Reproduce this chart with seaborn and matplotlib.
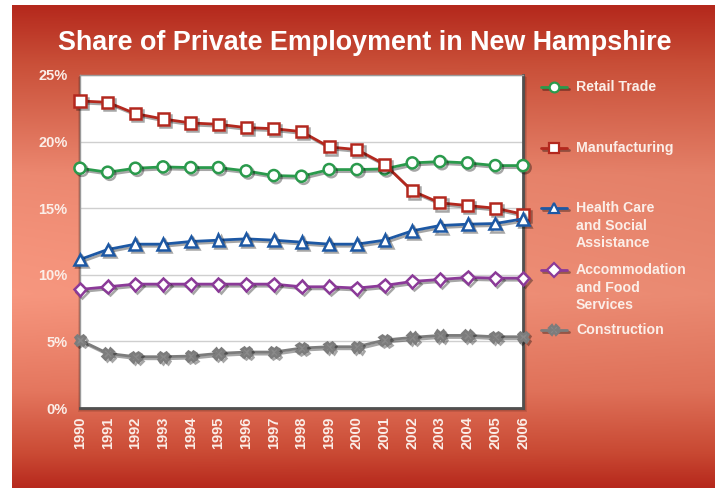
import numpy as np
import pandas as pd
import matplotlib
matplotlib.use("Agg")
import matplotlib.pyplot as plt
import matplotlib.patheffects as pe
from matplotlib.lines import Line2D
from matplotlib.patches import Rectangle
import seaborn as sns

# ---- data: share of private employment (%) ----
years = list(range(1990, 2007))
retail = [18.0, 17.7, 18.0, 18.1, 18.05, 18.05, 17.8, 17.45, 17.4, 17.9, 17.9, 17.95, 18.4, 18.5, 18.4, 18.2, 18.2]
manufacturing = [23.05, 22.95, 22.1, 21.7, 21.4, 21.3, 21.05, 20.97, 20.75, 19.6, 19.4, 18.3, 16.3, 15.4, 15.2, 15.0, 14.55]
health = [11.15, 11.9, 12.3, 12.3, 12.5, 12.6, 12.7, 12.6, 12.45, 12.3, 12.3, 12.6, 13.3, 13.7, 13.8, 13.85, 14.2]
accommodation = [8.9, 9.1, 9.3, 9.3, 9.3, 9.3, 9.3, 9.3, 9.1, 9.1, 9.0, 9.2, 9.5, 9.65, 9.8, 9.75, 9.75]
construction = [5.1, 4.1, 3.85, 3.85, 3.9, 4.1, 4.2, 4.2, 4.5, 4.6, 4.6, 5.1, 5.3, 5.45, 5.45, 5.35, 5.35]

series_names = ["Retail Trade", "Manufacturing", "Health Care\nand Social\nAssistance",
                "Accommodation\nand Food\nServices", "Construction"]
series_values = [retail, manufacturing, health, accommodation, construction]
y_ticks = [0, 5, 10, 15, 20, 25]
y_tick_labels = ["0%", "5%", "10%", "15%", "20%", "25%"]
title = "Share of Private Employment in New Hampshire"

colors = ["#2a9a4c", "#b3281e", "#1d58a4", "#8b3a98", "#7c7c7c"]
markers = ["o", "s", "^", "D", "X"]
faces = ["white", "white", "white", "white", "#8a8a8a"]
msizes = [8, 8, 8.5, 6.5, 7.5]

sns.set_theme(style="white")
plt.rcParams["font.family"] = ["Liberation Sans", "DejaVu Sans"]

W, H = 715, 488
fig = plt.figure(figsize=(W / 100, H / 100), dpi=100)
fig.patch.set_facecolor("white")

# ---- gradient backdrop panel ----
bg = fig.add_axes([12 / W, 0, (W - 12) / W, (H - 5) / H], zorder=0)
stops_y = [0.0, 0.12, 0.35, 0.6, 0.8, 0.93, 1.0]
stops_c = np.array([
    [180, 40, 28],
    [200, 78, 55],
    [228, 128, 104],
    [234, 138, 114],
    [222, 112, 88],
    [200, 72, 50],
    [182, 40, 28],
]) / 255.0
ny, nx = 300, 200
t = np.linspace(0, 1, ny)
col = np.stack([np.interp(t, stops_y, stops_c[:, k]) for k in range(3)], axis=-1)
img = np.repeat(col[:, None, :], nx, axis=1)
# slightly lighter toward the left
xf = np.linspace(1.0, 0.0, nx)
mid = np.exp(-((t - 0.55) / 0.3) ** 2)[:, None]
img = img + (0.05 * xf[None, :] * mid)[..., None]
img = np.clip(img, 0, 1)
bg.imshow(img, aspect="auto", extent=[0, 1, 0, 1], origin="upper")
bg.set_axis_off()

# ---- plot area ----
L, R, B, T = 80 / W, 523 / W, 1 - 408 / H, 1 - 75 / H
# soft shadow behind the white box
for i, a in enumerate([0.10, 0.10, 0.12, 0.15]):
    off = (4 - i) * 1.0
    fig.add_artist(Rectangle((L - off / W * 0.5, B - off / H), R - L + off / W * 1.5, T - B + off / H * 0.6,
                             transform=fig.transFigure, facecolor="black", alpha=a,
                             edgecolor="none", zorder=1))
ax = fig.add_axes([L, B, R - L, T - B], zorder=2)
ax.set_facecolor("white")

shadow = [pe.SimpleLineShadow(offset=(1.5, -1.5), shadow_color="black", alpha=0.35), pe.Normal()]

for name, vals, c, m, fc, ms in zip(series_names, series_values, colors, markers, faces, msizes):
    df = pd.DataFrame({"year": years, "share": vals})
    sns.lineplot(data=df, x="year", y="share", ax=ax, color=c, linewidth=2.0,
                 marker=m, markersize=ms, markerfacecolor=fc, markeredgecolor=c,
                 markeredgewidth=1.8, clip_on=False, zorder=5, path_effects=shadow)

ax.set_xlim(years[0], years[-1])
ax.set_ylim(0, 25)
ax.set_yticks(y_ticks)
ax.set_yticklabels(y_tick_labels)
ax.set_xticks(years)
ax.set_xticklabels([str(y) for y in years], rotation=90)
ax.set_xlabel("")
ax.set_ylabel("")
ax.grid(axis="y", color="#cfcfcf", linewidth=1.0)
ax.grid(axis="x", visible=False)
ax.set_axisbelow(True)
for s in ["left", "top"]:
    ax.spines[s].set_color("#9a9a9a")
    ax.spines[s].set_linewidth(1.0)
for s in ["right", "bottom"]:
    ax.spines[s].set_color("#505050")
    ax.spines[s].set_linewidth(2.0)
ax.tick_params(axis="y", colors="white", labelsize=10.5, length=0, pad=9)
ax.tick_params(axis="x", colors="white", labelsize=10.5, length=0, pad=6)
for lab in ax.get_yticklabels() + ax.get_xticklabels():
    lab.set_fontweight("bold")
    lab.set_color("#fbeee8")

# ---- title ----
fig.text(0.5 * (57 + 672) / W, 1 - 43 / H, title, ha="center", va="center",
         fontsize=19.4, fontweight="bold", color="white")

# ---- legend ----
leg_y = [87, 148, 208, 270, 330]
for name, c, m, fc, y in zip(series_names, colors, markers, faces, leg_y):
    yf = 1 - y / H
    ln = Line2D([541 / W, 567 / W], [yf, yf], transform=fig.transFigure, color=c, linewidth=2.0,
                path_effects=shadow, zorder=3)
    fig.add_artist(ln)
    mk = Line2D([554 / W], [yf], transform=fig.transFigure, marker=m, markersize=7,
                markerfacecolor=fc, markeredgecolor=c, markeredgewidth=1.6, linestyle="none",
                zorder=4)
    fig.add_artist(mk)
    fig.text(576 / W, yf + 7 / H, name, ha="left", va="top", fontsize=10.2,
             fontweight="bold", color="#fbeee8", linespacing=1.33, zorder=4)

fig.savefig("out.png", dpi=100)
